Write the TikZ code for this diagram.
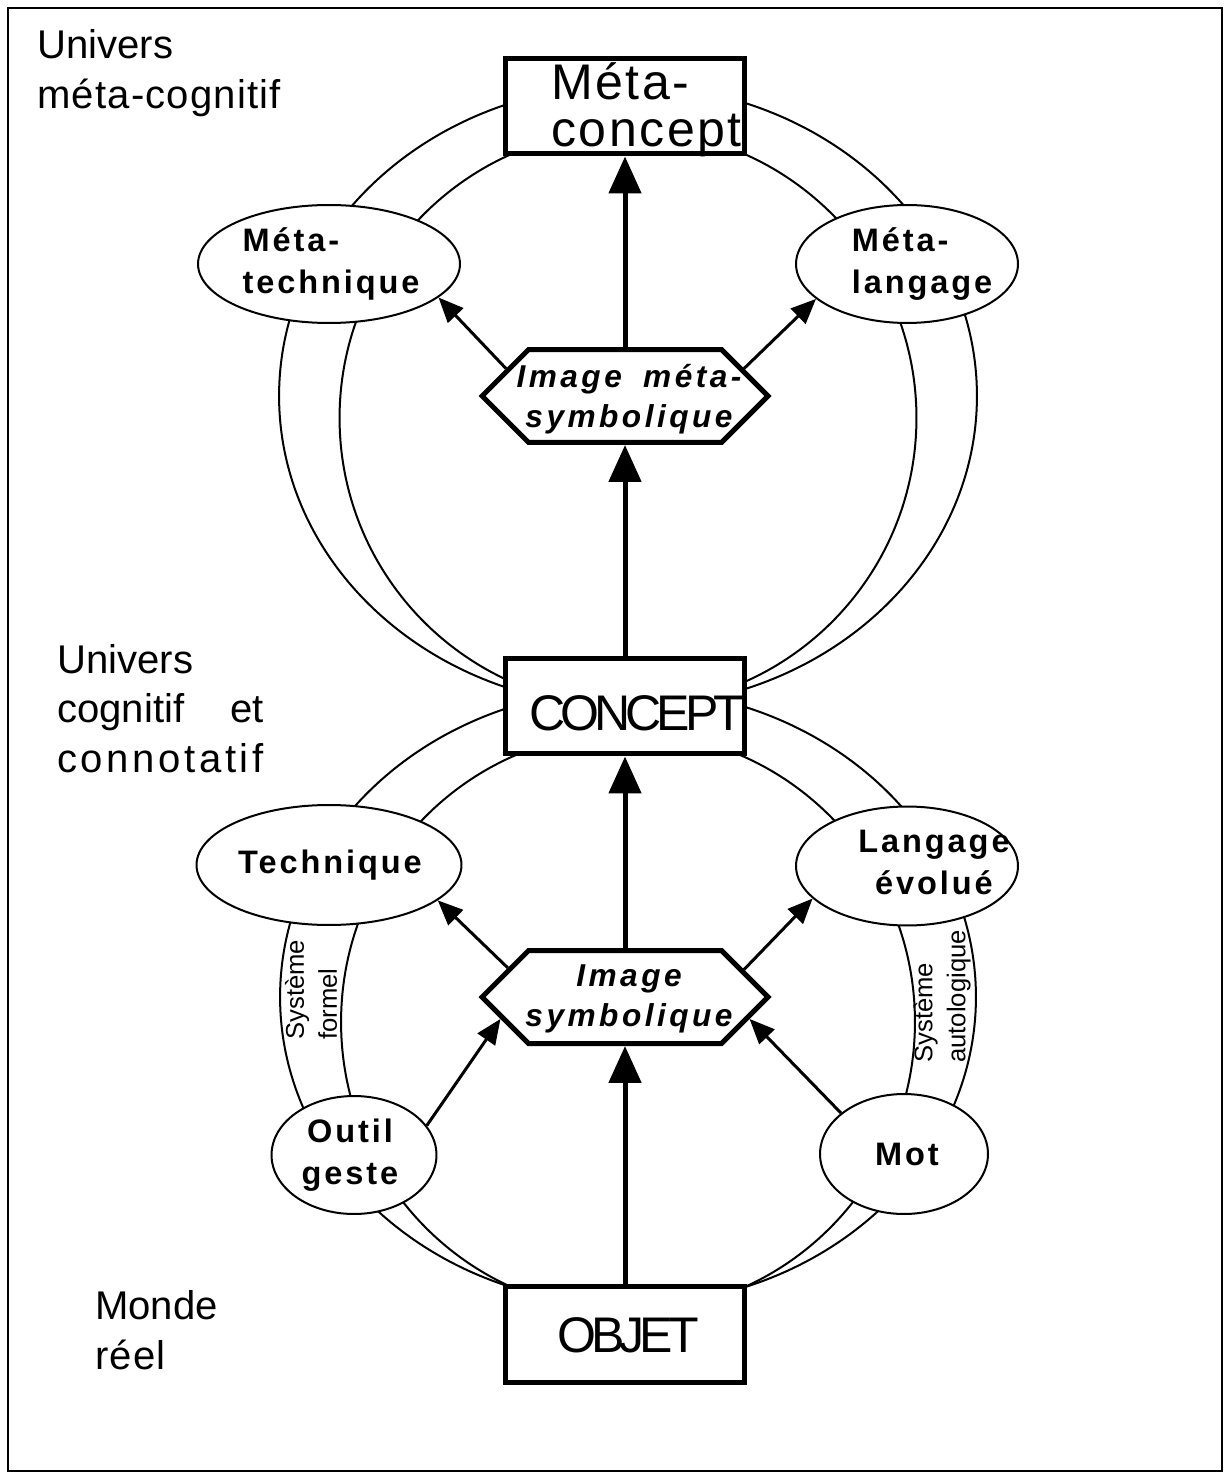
\documentclass[tikz,border=0pt]{standalone}
\usepackage{fontspec}
\setmainfont{Liberation Sans}
\newfontfamily\spfont[LetterSpace=9]{Liberation Sans}
\newfontfamily\hxfont[LetterSpace=11]{Liberation Sans}
\newfontfamily\capfont[LetterSpace=-10]{Liberation Sans}
\newfontfamily\mcfont[LetterSpace=5]{Liberation Sans}
\newfontfamily\lsfont[LetterSpace=9]{Liberation Sans}
\newfontfamily\lsmfont[LetterSpace=3]{Liberation Sans}
\usetikzlibrary{shapes.geometric,shapes.symbols,arrows.meta}
\begin{document}
\begin{tikzpicture}[x=0.02cm,y=-0.02cm,
  frame/.style={line width=0.045cm},
  arcline/.style={line width=0.04cm},
  box/.style={draw, line width=0.1cm, fill=white, minimum width=4.8cm, minimum height=1.92cm, inner sep=0pt},
  ell/.style={draw, ellipse, line width=0.04cm, fill=white, inner sep=0pt},
  hex/.style={draw, signal, signal to=west and east, signal pointer angle=90, line width=0.1cm, fill=white, minimum width=5.72cm, minimum height=1.86cm, inner sep=0pt},
  big/.style={line width=0.1cm, -{Triangle[length=0.74cm,width=0.64cm]}},
  small/.style={line width=0.06cm, -{Triangle[length=0.5cm,width=0.42cm]}},
  bigtxt/.style={font=\fontsize{28.5pt}{26.5pt}\selectfont, inner sep=0pt},
  side/.style={font=\fontsize{22.8pt}{28.45pt}\selectfont, inner sep=0pt},
  elltxt/.style={font=\fontsize{18.5pt}{23.9pt}\selectfont\spfont\bfseries, inner sep=0pt},
  hextxt/.style={font=\fontsize{18pt}{23pt}\selectfont\hxfont\bfseries\itshape, inner sep=0pt},
  systxt/.style={font=\fontsize{14.6pt}{18.8pt}\selectfont, inner sep=0pt, rotate=90, align=left},
]
\useasboundingbox (0,0) rectangle (1231,1479);
\draw[frame] (8,8) rectangle (1222,1471);

% circles behind the nodes
\draw[arcline] (628,396) ellipse [x radius=6.98cm, y radius=6.22cm];
\draw[arcline] (628,418) circle [radius=5.77cm];
\draw[arcline] (628,997) ellipse [x radius=6.96cm, y radius=6.16cm];
\draw[arcline] (628,1022) ellipse [x radius=5.74cm, y radius=5.8cm];

% main boxes
\node[box] (mc) at (625,106) {};
\node[box] (concept) at (625,706) {};
\node[box] (objet) at (625,1334) {};
\node[bigtxt, anchor=west, align=left, font=\fontsize{28.5pt}{26.5pt}\selectfont\mcfont] (mctxt) at (551,110) {Méta-\\concept};
\node[bigtxt, anchor=base west] (concepttxt) at (529,730) {\capfont CONCEPT};
\node[bigtxt, anchor=base] (objettxt) at (628,1352) {\capfont OBJET};

% hexagons
\node[hex] (hm) at (625,396) {};
\node[hex] (hs) at (625,997) {};
\node[hextxt, align=center] (hmtxt) at (629,399) {\makebox[4.5cm][s]{Image méta-}\\symbolique};
\node[hextxt, align=center] (hstxt) at (629,999) {Image\\symbolique};

% ellipses
\node[ell, minimum width=5.24cm, minimum height=2.36cm] (mtech) at (329,264) {};
\node[ell, minimum width=4.44cm, minimum height=2.36cm] (mlang) at (907,264) {};
\node[ell, minimum width=5.3cm, minimum height=2.4cm] (tech) at (329,865) {};
\node[ell, minimum width=4.44cm, minimum height=2.38cm] (lang) at (907,866) {};
\node[ell, minimum width=3.3cm, minimum height=2.36cm] (outil) at (354,1155) {};
\node[ell, minimum width=3.36cm, minimum height=2.4cm] (mot) at (904,1154) {};
\node[elltxt, align=left] (mtechtxt) at (331,264) {Méta-\\technique};
\node[elltxt, align=left] (mlangtxt) at (922,264) {Méta-\\langage};
\node[elltxt] (techtxt) at (330,865) {Technique};
\node[elltxt, align=center] (langtxt) at (934,862) {Langage\\évolué};
\node[elltxt, align=center] (outiltxt) at (350,1155) {Outil\\geste};
\node[elltxt] (mottxt) at (907,1154) {Mot};

% rotated system labels
\node[systxt, anchor=west] (sysf) at (311,1040) {Système\\formel};
\node[systxt, anchor=west] (sysa) at (942,1063) {Système\\autologique};

% side labels
\node[side, anchor=base west] (umeta) at (37,59) {\begin{tabular}[t]{@{}l@{}}Univers\\\lsmfont méta-cognitif\end{tabular}};
\node[side, anchor=base west] (ucog) at (57,673) {\begin{tabular}[t]{@{}l@{}}Univers\\cognitif\hfill et\\\lsfont connotatif\end{tabular}};
\node[side, anchor=base west] (monde) at (95,1319) {\begin{tabular}[t]{@{}l@{}}Monde\\\lsmfont réel\end{tabular}};

% arrows
\draw[big] (hm.north) -- (mc.south);
\draw[big] (concept.north) -- (hm.south);
\draw[big] (hs.north) -- (concept.south);
\draw[big] (objet.north) -- (hs.south);
\draw[small] (hm.167) -- (mtech.-17);
\draw[small] (hm.13) -- (mlang.-159);
\draw[small] (hs.166.5) -- (tech.-18);
\draw[small] (hs.13.7) -- (lang.-161);
\draw[small] (outil.22.3) -- (hs.190.2);
\draw[small] (mot.147.2) -- (hs.-10.7);
\end{tikzpicture}
\end{document}
